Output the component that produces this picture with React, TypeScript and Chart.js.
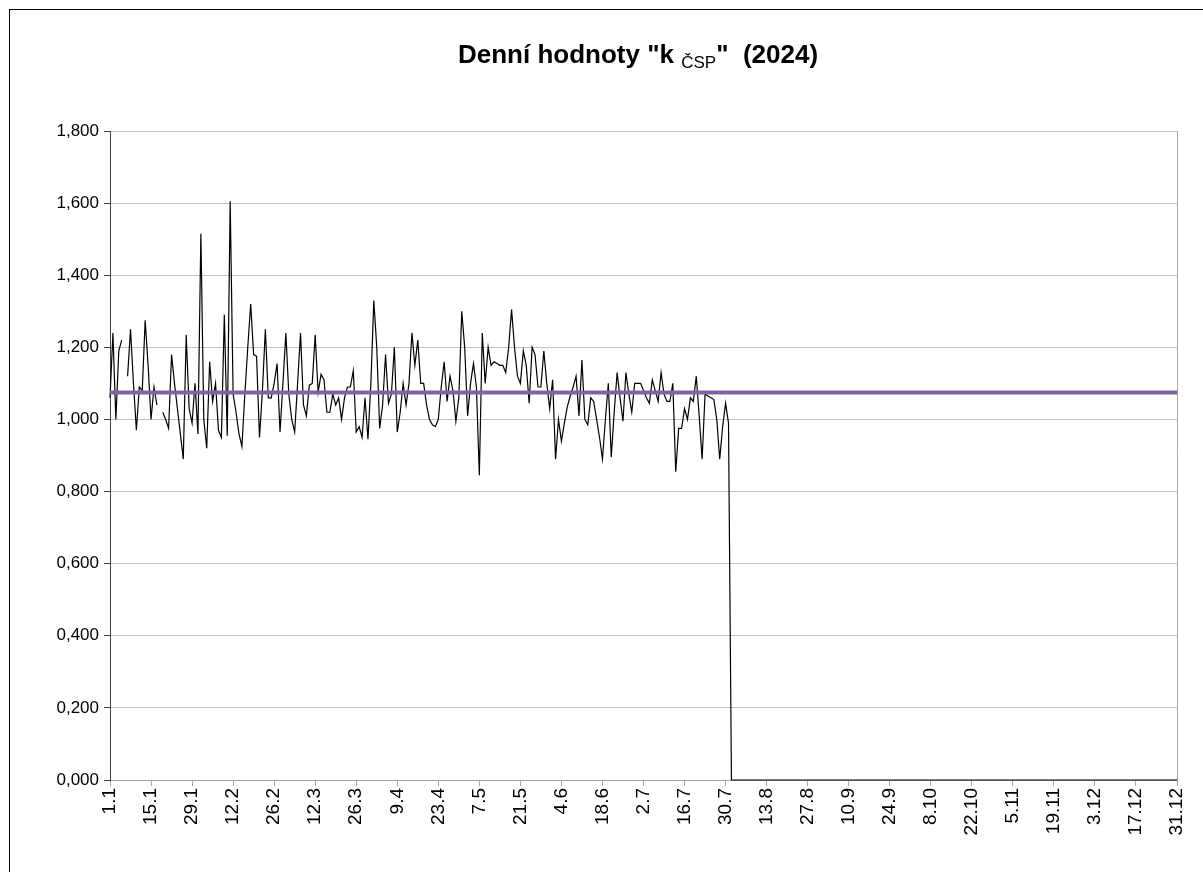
import React, { useEffect, useRef } from "react";
import { Chart, registerables } from "chart.js";

Chart.register(...registerables);

// Daily values of k_ČSP (2024), one entry per day (non-leap calendar as in the source chart)
const valuesJan = [1.06, 1.24, 1.0, 1.19, 1.22, null, 1.12, 1.25, 1.1, 0.97, 1.09, 1.08, 1.275, 1.15, 1.0, 1.09, 1.04, null, 1.02, 1.0, 0.975, 1.18, 1.1, 1.03, 0.96, 0.89, 1.235, 1.03, 0.99, 1.1, 0.96];
const valuesFeb = [1.515, 1.0, 0.92, 1.16, 1.05, 1.1, 0.97, 0.95, 1.29, 0.955, 1.605, 1.07, 1.02, 0.96, 0.925, 1.07, 1.2, 1.32, 1.18, 1.175, 0.95, 1.08, 1.25, 1.06, 1.06, 1.1, 1.155, 0.965];
const valuesMar = [1.1, 1.24, 1.07, 1.0, 0.965, 1.1, 1.24, 1.04, 1.01, 1.095, 1.1, 1.235, 1.075, 1.125, 1.11, 1.02, 1.02, 1.07, 1.04, 1.06, 1.0, 1.06, 1.09, 1.09, 1.135, 0.965, 0.98, 0.95, 1.06, 0.945, 1.1];
const valuesApr = [1.33, 1.2, 0.975, 1.04, 1.18, 1.045, 1.07, 1.2, 0.965, 1.02, 1.1, 1.04, 1.1, 1.24, 1.15, 1.22, 1.1, 1.1, 1.04, 1.0, 0.985, 0.98, 1.0, 1.09, 1.16, 1.05, 1.12, 1.08, 0.995, 1.06];
const valuesMay = [1.3, 1.2, 1.01, 1.1, 1.155, 1.09, 0.845, 1.24, 1.1, 1.2, 1.15, 1.16, 1.155, 1.15, 1.15, 1.13, 1.2, 1.305, 1.2, 1.12, 1.1, 1.19, 1.15, 1.045, 1.2, 1.18, 1.09, 1.09, 1.19, 1.1, 1.03];
const valuesJun = [1.11, 0.89, 1.0, 0.94, 0.99, 1.035, 1.065, 1.09, 1.12, 1.01, 1.165, 1.0, 0.985, 1.06, 1.05, 1.0, 0.95, 0.89, 1.0, 1.1, 0.895, 1.02, 1.13, 1.06, 0.995, 1.13, 1.07, 1.02, 1.1, 1.1];
const valuesJul = [1.1, 1.08, 1.06, 1.045, 1.11, 1.08, 1.05, 1.13, 1.07, 1.05, 1.05, 1.1, 0.855, 0.975, 0.975, 1.03, 1.0, 1.06, 1.05, 1.12, 1.01, 0.89, 1.07, 1.065, 1.06, 1.055, 1.0, 0.89, 0.98, 1.045, 0.99];
const valuesAug = [0, 0, 0, 0, 0, 0, 0, 0, 0, 0, 0, 0, 0, 0, 0, 0, 0, 0, 0, 0, 0, 0, 0, 0, 0, 0, 0, 0, 0, 0, 0];
const valuesSep = [0, 0, 0, 0, 0, 0, 0, 0, 0, 0, 0, 0, 0, 0, 0, 0, 0, 0, 0, 0, 0, 0, 0, 0, 0, 0, 0, 0, 0, 0];
const valuesOct = [0, 0, 0, 0, 0, 0, 0, 0, 0, 0, 0, 0, 0, 0, 0, 0, 0, 0, 0, 0, 0, 0, 0, 0, 0, 0, 0, 0, 0, 0, 0];
const valuesNov = [0, 0, 0, 0, 0, 0, 0, 0, 0, 0, 0, 0, 0, 0, 0, 0, 0, 0, 0, 0, 0, 0, 0, 0, 0, 0, 0, 0, 0, 0];
const valuesDec = [0, 0, 0, 0, 0, 0, 0, 0, 0, 0, 0, 0, 0, 0, 0, 0, 0, 0, 0, 0, 0, 0, 0, 0, 0, 0, 0, 0, 0, 0, 0];

// Average level (purple horizontal line)
const averageValue = 1.075;

// X-axis tick labels, one every 14 days
const tickLabels = ["1.1", "15.1", "29.1", "12.2", "26.2", "12.3", "26.3", "9.4", "23.4", "7.5", "21.5", "4.6", "18.6", "2.7", "16.7", "30.7", "13.8", "27.8", "10.9", "24.9", "8.10", "22.10", "5.11", "19.11", "3.12", "17.12", "31.12"];
const tickStep = 14;

const W = 1203;
const H = 872;
const FONT = "'Liberation Sans', Arial, Helvetica, sans-serif";

const plotBorder = {
  id: "plotBorder",
  afterDatasetsDraw(chart: any) {
    const { ctx, chartArea } = chart;
    ctx.save();
    ctx.strokeStyle = "#a6a6a6";
    ctx.lineWidth = 1;
    ctx.beginPath();
    ctx.moveTo(Math.round(chartArea.right) + 0.5, chartArea.top);
    ctx.lineTo(Math.round(chartArea.right) + 0.5, chartArea.bottom);
    ctx.stroke();
    ctx.restore();
  },
};

export default function App() {
  const canvasRef = useRef<HTMLCanvasElement | null>(null);

  useEffect(() => {
    const values = [
      ...valuesJan, ...valuesFeb, ...valuesMar, ...valuesApr, ...valuesMay, ...valuesJun,
      ...valuesJul, ...valuesAug, ...valuesSep, ...valuesOct, ...valuesNov, ...valuesDec,
    ];
    const lastDay = values.length - 1;
    const canvas = canvasRef.current!;
    const chart = new Chart(canvas, {
      type: "line",
      data: {
        datasets: [
          {
            label: "průměr",
            data: [
              { x: 0, y: averageValue },
              { x: lastDay, y: averageValue },
            ],
            borderColor: "#8064A2",
            borderWidth: 4,
            pointRadius: 0,
            tension: 0,
            order: 0,
          },
          {
            label: "k ČSP",
            data: values.map((v, i) => ({ x: i, y: v })),
            borderColor: "#000000",
            borderWidth: 1.2,
            pointRadius: 0,
            tension: 0,
            spanGaps: false,
            clip: 3,
            order: 1,
          },
        ],
      },
      options: {
        animation: false,
        responsive: false,
        devicePixelRatio: 1,
        layout: { padding: { top: 131, right: 26, bottom: 0, left: 0 } },
        plugins: {
          legend: { display: false },
          title: { display: false },
          tooltip: { enabled: false },
        },
        scales: {
          x: {
            type: "linear",
            min: 0,
            max: lastDay,
            afterFit: (s: any) => {
              s.height = H - 780;
            },
            grid: {
              drawOnChartArea: false,
              drawTicks: true,
              tickLength: 6,
              color: "#a6a6a6",
            },
            border: { color: "#a6a6a6", width: 1 },
            ticks: {
              stepSize: tickStep,
              autoSkip: false,
              maxRotation: 90,
              minRotation: 90,
              padding: 2,
              color: "#000000",
              font: { family: FONT, size: 19 },
              callback: (v: any) => {
                const idx = Math.round(Number(v) / tickStep);
                return Math.abs(Number(v) - idx * tickStep) < 1e-6 ? tickLabels[idx] : "";
              },
            },
          },
          y: {
            min: 0,
            max: 1.8,
            afterFit: (s: any) => {
              s.width = 110;
            },
            grid: {
              color: "#c0c0c0",
              lineWidth: 1,
              drawTicks: true,
              tickLength: 6,
              tickColor: "#404040",
            },
            border: { color: "#404040", width: 1 },
            ticks: {
              stepSize: 0.2,
              padding: 5,
              color: "#000000",
              font: { family: FONT, size: 17 },
              callback: (v: any) => Number(v).toFixed(3).replace(".", ","),
            },
          },
        },
      },
      plugins: [plotBorder],
    });
    return () => chart.destroy();
  }, []);

  return (
    <div style={{ position: "absolute", left: 0, top: 0, width: W, height: H, background: "#fff", overflow: "hidden" }}>
      <div
        style={{
          position: "absolute",
          left: 9,
          top: 9,
          width: W,
          height: H,
          borderLeft: "1px solid #000",
          borderTop: "1px solid #000",
          boxSizing: "border-box",
        }}
      />
      <canvas ref={canvasRef} width={W} height={H} style={{ position: "absolute", left: 0, top: 0 }} />
      <div
        style={{
          position: "absolute",
          left: 638,
          top: 39,
          transform: "translateX(-50%)",
          whiteSpace: "pre",
          fontFamily: FONT,
          fontWeight: "bold",
          fontSize: 26,
          color: "#000",
          lineHeight: "30px",
        }}
      >
        {'Denní hodnoty "k '}
        <span style={{ fontSize: 17, fontWeight: "normal", position: "relative", top: 5 }}>ČSP</span>
        {'"  (2024)'}
      </div>
    </div>
  );
}
